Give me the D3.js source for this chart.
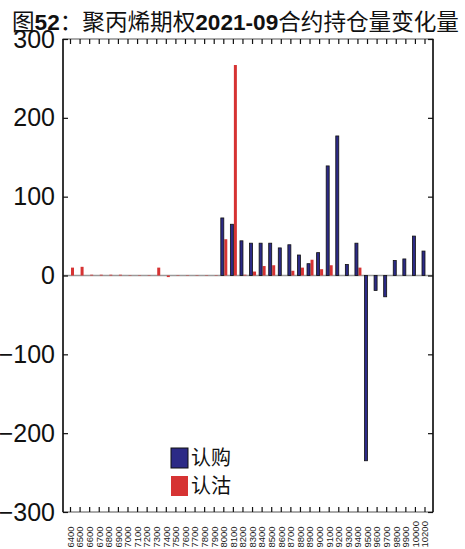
<!DOCTYPE html>
<html lang="zh">
<head>
  <meta charset="UTF-8">
  <title>聚丙烯期权2021-09合约持仓量变化量</title>
  <style>
    html, body { margin: 0; padding: 0; background: #fff; }
    svg { display: block; font-family: "Liberation Sans", Arial, sans-serif; }
    .title { font-family: "Noto Sans CJK SC", sans-serif; font-size: 22.6px; fill: #111; }
    .title .num { font-family: "Liberation Sans", Arial, sans-serif; font-weight: bold; }
    .y-axis text { font-size: 25px; fill: #111; }
    .x-axis text { font-size: 9.5px; fill: #222; }
    .axis path { display: none; }
    .axis line { stroke: #111; stroke-width: 1.2; }
    .legend text { font-family: "Noto Sans CJK SC", sans-serif; font-size: 20px; fill: #111; }
  </style>
  <script src="https://cdn.jsdelivr.net/npm/d3@7"></script>
</head>
<body>
<script>
  // 行权价
  const strikes = ['6400', '6500', '6600', '6700', '6800', '6900', '7000', '7100', '7200', '7300',
    '7400', '7500', '7600', '7700', '7800', '7900', '8000', '8100', '8200', '8300',
    '8400', '8500', '8600', '8700', '8800', '8900', '9000', '9100', '9200', '9300',
    '9400', '9500', '9600', '9700', '9800', '9900', '10000', '10200'];
  // 认购持仓变化
  const callChange = [0, 0, 0, 0, 0, 0, 0, 0, 0, 0,
    0, 0, 0, 0, 0, 0, 73, 65, 44, 41,
    41, 41, 35, 39, 26, 15, 29, 139, 177, 14,
    41, -235, -19, -27, 19, 21, 50, 31];
  // 认沽持仓变化
  const putChange = [10, 11, 1, 1, 1, 1, 0.5, 0.5, 0.5, 10,
    -2, 0.5, 0.5, 0.5, 0.5, 0.5, 46, 267, 1, 5,
    12, 13, 0, 6, 10, 20, 8, 13, 0, 0,
    10, 0, 0, 0, 0, 0, 0, 0];
  const yTicks = [-300, -200, -100, 0, 100, 200, 300];

  const width = 465;
  const height = 549;
  const padLeft = 63, padRight = 433, padTop = 39, padBottom = 512;
  const barW = 3;

  const svg = d3.select('body').append('svg')
    .attr('width', width)
    .attr('height', height);

  const x = d3.scalePoint().domain(strikes).range([70, 424.5]);
  const y = d3.scaleLinear().domain([-300, 300]).range([padBottom, padTop]);

  // 标题
  const title = svg.append('text').attr('class', 'title').attr('x', 12).attr('y', 30);
  title.append('tspan').text('图');
  title.append('tspan').attr('class', 'num').text('52');
  title.append('tspan').text('：聚丙烯期权');
  title.append('tspan').attr('class', 'num').text('2021-09');
  title.append('tspan').text('合约持仓量变化量');

  // 零线
  svg.append('line')
    .attr('x1', padLeft).attr('x2', padRight)
    .attr('y1', y(0)).attr('y2', y(0))
    .attr('stroke', '#9a9a9a').attr('stroke-width', 1.5);

  // 柱子
  const rows = strikes.map((s, i) => ({ s, call: callChange[i], put: putChange[i] }));

  svg.append('g').selectAll('rect')
    .data(rows)
    .enter().append('rect')
    .attr('x', d => x(d.s) + 1)
    .attr('width', barW)
    .attr('y', d => y(Math.max(0, d.put)))
    .attr('height', d => Math.abs(y(d.put) - y(0)))
    .attr('fill', '#d63333');

  svg.append('g').selectAll('rect')
    .data(rows.filter(d => d.call !== 0))
    .enter().append('rect')
    .attr('x', d => x(d.s) - 2.5)
    .attr('width', barW)
    .attr('y', d => y(Math.max(0, d.call)))
    .attr('height', d => Math.abs(y(d.call) - y(0)))
    .attr('fill', '#2c2a86')
    .attr('stroke', '#111')
    .attr('stroke-width', 0.8);

  // 边框
  svg.append('rect')
    .attr('x', padLeft).attr('y', padTop)
    .attr('width', padRight - padLeft).attr('height', padBottom - padTop)
    .attr('fill', 'none').attr('stroke', '#555').attr('stroke-width', 1);
  svg.append('line').attr('x1', padLeft).attr('x2', padLeft).attr('y1', padTop).attr('y2', padBottom)
    .attr('stroke', '#111').attr('stroke-width', 1.5);
  svg.append('line').attr('x1', padRight).attr('x2', padRight).attr('y1', padTop).attr('y2', padBottom)
    .attr('stroke', '#111').attr('stroke-width', 1.5);

  // 坐标轴
  svg.append('g')
    .attr('class', 'axis y-axis')
    .attr('transform', `translate(${padLeft},0)`)
    .call(d3.axisLeft(y).tickValues(yTicks).tickSizeInner(-5).tickSizeOuter(0).tickPadding(8));

  svg.append('g')
    .attr('class', 'axis')
    .attr('transform', `translate(${padRight},0)`)
    .call(d3.axisRight(y).tickValues(yTicks).tickSizeInner(-5).tickSizeOuter(0).tickFormat(''));

  svg.append('g')
    .attr('class', 'axis')
    .attr('transform', `translate(0,${padTop})`)
    .call(d3.axisTop(x).tickSizeInner(-5).tickSizeOuter(0).tickFormat(''));

  const xAxis = svg.append('g')
    .attr('class', 'axis x-axis')
    .attr('transform', `translate(0,${padBottom})`)
    .call(d3.axisBottom(x).tickSizeInner(-5).tickSizeOuter(0));
  xAxis.selectAll('text')
    .attr('transform', 'rotate(-90)')
    .attr('text-anchor', 'start')
    .attr('x', -35.5)
    .attr('y', 0)
    .attr('dy', '0.35em');

  // 图例
  const legend = svg.append('g').attr('class', 'legend');
  const items = [{ name: '认购', color: '#2c2a86', stroke: '#111' }, { name: '认沽', color: '#d63333', stroke: 'none' }];
  items.forEach((it, i) => {
    legend.append('rect')
      .attr('x', 171).attr('y', 448 + i * 28)
      .attr('width', 17).attr('height', 20)
      .attr('fill', it.color).attr('stroke', it.stroke).attr('stroke-width', 1);
    legend.append('text')
      .attr('x', 191).attr('y', 458 + i * 28)
      .attr('dy', '0.36em')
      .text(it.name);
  });
</script>
</body>
</html>
